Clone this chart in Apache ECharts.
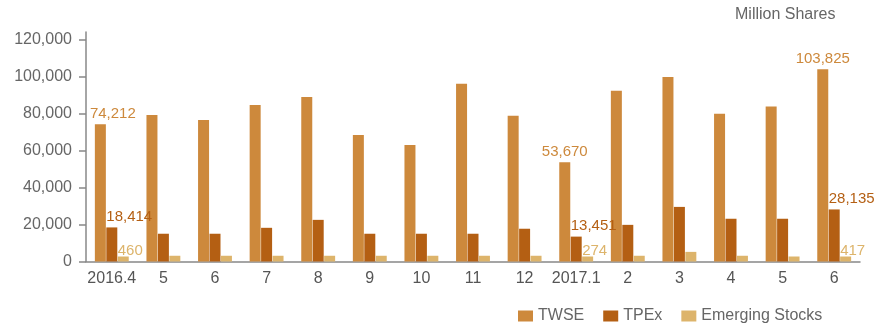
<!DOCTYPE html>
<html>
<head>
<meta charset="utf-8">
<script src="https://cdn.jsdelivr.net/npm/echarts@6/dist/echarts.min.js"></script>
<style>
html, body { margin: 0; padding: 0; background: #fff; }
#chart { width: 894px; height: 329px; }
</style>
</head>
<body>
<div id="chart"></div>
<script>
// Monthly trading volume, million shares
const months = ['2016.4', '5', '6', '7', '8', '9', '10', '11', '12', '2017.1', '2', '3', '4', '5', '6'];
const twse = [74212, 79200, 76500, 84600, 88900, 68400, 63000, 96000, 78700, 53670, 92200, 99700, 79800, 83700, 103825];
const tpex = [18414, 15000, 15000, 18200, 22500, 15000, 15000, 15000, 17700, 13451, 19800, 29500, 23100, 23100, 28135];
const emerging = [460, 3100, 3100, 3100, 3100, 3100, 3100, 3100, 3100, 274, 3100, 5200, 3100, 2500, 417];
const labelledIdx = [0, 9, 14];
const yTicks = [0, 20000, 40000, 60000, 80000, 100000, 120000];

const FONT = "'Liberation Sans', Arial, Helvetica, sans-serif";
const COLORS = { twse: '#cd893c', tpex: '#b45f13', emerging: '#ddb46b' };

const fmt = v => Number(v).toLocaleString('en-US');

// Only the first, middle and last months carry value labels
function withLabels(values, color, centred, lift, firstOffset) {
  return values.map((v, i) => {
    if (!labelledIdx.includes(i)) return v;
    const label = {
      show: true,
      formatter: p => fmt(p.value),
      color: color,
      fontSize: 15,
      fontFamily: FONT,
      verticalAlign: 'middle',
      position: centred ? ['50%', -lift] : [0, -lift],
      align: centred ? 'center' : 'left'
    };
    if (i === 0 && firstOffset) label.offset = firstOffset;
    return { value: v, label: label };
  });
}

const chart = echarts.init(document.getElementById('chart'), null, { renderer: 'canvas' });

chart.setOption({
  animation: false,
  textStyle: { fontFamily: FONT },
  title: {
    text: 'Million Shares',
    left: 735,
    top: 7,
    padding: 0,
    textStyle: { fontSize: 16, fontWeight: 'normal', color: '#666', fontFamily: FONT }
  },
  legend: {
    left: 518,
    top: 308,
    padding: 0,
    itemWidth: 15,
    itemHeight: 11,
    itemGap: 19,
    icon: 'rect',
    textStyle: { fontSize: 16, color: '#666', fontFamily: FONT },
    data: ['TWSE', 'TPEx', 'Emerging Stocks']
  },
  grid: { left: 86, right: 34, top: 32, bottom: 67.5 },
  xAxis: {
    type: 'category',
    data: months,
    axisLine: { lineStyle: { color: '#888', width: 1.5 } },
    axisTick: { length: 8, lineStyle: { color: '#888', width: 1.5 } },
    axisLabel: { fontSize: 16, color: '#555', margin: 9, fontFamily: FONT, interval: 0 }
  },
  yAxis: {
    type: 'value',
    min: 0,
    max: 124000,
    interval: 20000,
    splitLine: { show: false },
    axisLine: { show: true, lineStyle: { color: '#888', width: 1.5 } },
    axisTick: { show: true, length: 7, customValues: yTicks, lineStyle: { color: '#888', width: 1.5 } },
    axisLabel: { fontSize: 16, color: '#666', margin: 14, fontFamily: FONT, customValues: yTicks, formatter: v => fmt(v) }
  },
  series: [
    {
      name: 'TWSE', type: 'bar', barWidth: 11, barGap: '4%',
      itemStyle: { color: COLORS.twse },
      data: withLabels(twse, COLORS.twse, true, 10, [12.5, 0])
    },
    {
      name: 'TPEx', type: 'bar', barWidth: 11, barGap: '4%',
      itemStyle: { color: COLORS.tpex },
      data: withLabels(tpex, COLORS.tpex, false, 11)
    },
    {
      name: 'Emerging Stocks', type: 'bar', barWidth: 11, barGap: '4%', barMinHeight: 5,
      itemStyle: { color: COLORS.emerging },
      data: withLabels(emerging, COLORS.emerging, false, 6)
    }
  ]
});
</script>
</body>
</html>
